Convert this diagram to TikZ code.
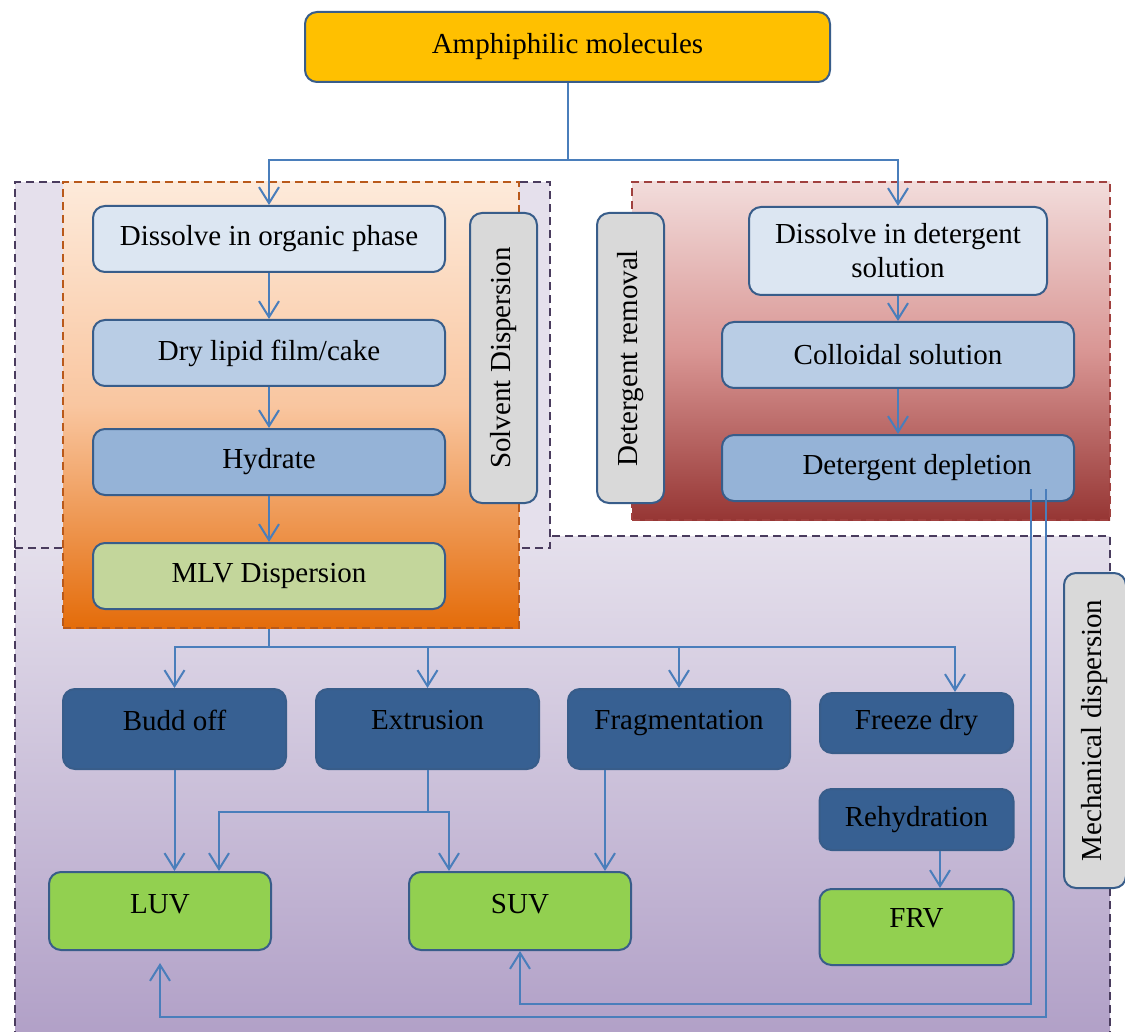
\documentclass[tikz,border=0pt]{standalone}
\usepackage{fontspec}
\setmainfont{Liberation Serif}
\usetikzlibrary{arrows.meta, calc, positioning}
\definecolor{boxedge}{HTML}{385D8A}
\definecolor{linkblue}{HTML}{4A7EBB}
\definecolor{amphigold}{HTML}{FFC000}
\definecolor{palestep}{HTML}{DCE6F2}
\definecolor{midstep}{HTML}{B9CDE5}
\definecolor{deepstep}{HTML}{95B3D7}
\definecolor{mlvgreen}{HTML}{C3D69B}
\definecolor{labelgrey}{HTML}{D9D9D9}
\definecolor{methodblue}{HTML}{376092}
\definecolor{vesiclegreen}{HTML}{92D050}
\definecolor{lavender}{HTML}{E5E0EC}
\definecolor{mechbottom}{HTML}{B1A0C7}
\definecolor{mechedge}{HTML}{4A3C5E}
\definecolor{solvtop}{HTML}{FDEADA}
\definecolor{solvmid}{HTML}{F9C6A0}
\definecolor{solvbottom}{HTML}{E46C0A}
\definecolor{solvedge}{HTML}{B9591A}
\definecolor{dettop}{HTML}{F2DCDB}
\definecolor{detmid}{HTML}{D99694}
\definecolor{detbottom}{HTML}{963634}
\definecolor{detedge}{HTML}{A0403E}

\begin{document}
\begin{tikzpicture}
  [x=0.5pt, y=-0.5pt,
   font=\fontsize{14.5}{17}\selectfont,
   zone/.style={dash pattern=on 4pt off 2.5pt, line width=0.8pt, inner sep=0pt},
   box/.style={draw=boxedge, line width=1pt, rounded corners=6pt, inner sep=2pt, align=center},
   stage/.style={box, minimum width=176pt, minimum height=33pt},
   sidebox/.style={box, fill=labelgrey, rotate=90},
   method/.style={box, fill=methodblue},
   vesicle/.style={box, fill=vesiclegreen},
   link/.style={draw=linkblue, line width=1pt},
   arr/.style={link, -{Straight Barb[length=8pt, width=10pt]}}]

  \useasboundingbox (0,0) rectangle (1125,1032);

  \node[zone, draw=mechedge, top color=lavender, bottom color=mechbottom, minimum width=547.5pt, minimum height=250pt] (mechzone) at (562.5,786) {};
  \node[zone, draw=mechedge, fill=lavender, minimum width=267.5pt, minimum height=183pt] (lipzone) at (282.5,365) {};
  \node[zone, draw=detedge, top color=dettop, bottom color=detbottom, middle color=detmid, minimum width=239pt, minimum height=169pt] (detzone) at (871,351) {};
  \node[zone, draw=solvedge, top color=solvtop, bottom color=solvbottom, middle color=solvmid, minimum width=228pt, minimum height=223pt] (solvzone) at (291,405) {};

  \node[box, fill=amphigold, minimum width=262.5pt, minimum height=35pt] (amphi) at (567.5,47) {Amphiphilic molecules};

  \node[stage, fill=palestep] (org) at (269,239) {Dissolve in organic phase};
  \node[stage, fill=midstep, below=23pt of org] (dry) {Dry lipid film/cake};
  \node[stage, fill=deepstep, below=20.5pt of dry] (hyd) {Hydrate};
  \node[stage, fill=mlvgreen, below=23pt of hyd] (mlv) {MLV Dispersion};
  \node[sidebox, minimum width=145pt, minimum height=33.5pt] (solvlbl) at (503.5,358) {Solvent Dispersion};

  \node[sidebox, minimum width=145pt, minimum height=33.5pt] (detlbl) at (630.5,358) {Detergent removal};
  \node[box, fill=palestep, minimum width=149pt, minimum height=44pt] (deto) at (898,251) {Dissolve in detergent\\solution};
  \node[stage, fill=midstep, below=12.5pt of deto] (coll) {Colloidal solution};
  \node[stage, fill=deepstep, below=22.5pt of coll] (depl) {\hspace*{19pt}Detergent depletion};

  \node[sidebox, minimum width=157.5pt, minimum height=31pt] (mechlbl) at (1095,730.5) {Mechanical dispersion};

  \node[method, text depth=9pt, minimum width=111.5pt, minimum height=40pt] (budd) at (174.5,729) {Budd off};
  \node[method, text depth=9pt, minimum width=111.5pt, minimum height=40pt, right=14pt of budd] (extr) {Extrusion};
  \node[method, text depth=9pt, minimum width=111pt, minimum height=40pt, right=13.5pt of extr] (frag) {Fragmentation};
  \node[method, minimum width=96.5pt, minimum height=30pt] (frz) at (916.5,723) {Freeze dry};
  \node[method, minimum width=97pt, minimum height=30.5pt, below=17pt of frz] (rehyd) {Rehydration};

  \node[vesicle, text depth=7pt, minimum width=111pt, minimum height=39pt] (luv) at (160,911) {LUV};
  \node[vesicle, text depth=7pt, minimum width=111pt, minimum height=39pt] (suv) at (520,911) {SUV};
  \node[vesicle, text depth=9pt, minimum width=97pt, minimum height=38pt, below=18.5pt of rehyd] (frv) {FRV};

  \coordinate (split) at (amphi.south |- 0,160);
  \draw[link] (amphi.south) -- (split);
  \draw[arr] (split) -| (org.north);
  \draw[arr] (split) -| (deto.north);

  \draw[arr] (org.south) -- (org.south |- dry.north);
  \draw[arr] (dry.south) -- (dry.south |- hyd.north);
  \draw[arr] (hyd.south) -- (hyd.south |- mlv.north);
  \draw[arr] (deto.south) -- (deto.south |- coll.north);
  \draw[arr] (coll.south) -- (coll.south |- depl.north);

  \coordinate (fork) at (mlv.south |- 0,647);
  \draw[link] (mlv.south |- solvzone.south) -- (fork);
  \foreach \n in {budd, extr, frag}
    \draw[arr] (fork) -| (\n.north);
  \draw[arr] (fork) -| (955,0 |- frz.north);

  \coordinate (exfork) at (extr.south |- 0,812);
  \draw[link] (extr.south) -- (exfork);
  \draw[arr] (exfork) -| (219,0 |- luv.north);
  \draw[arr] (exfork) -| (449,0 |- suv.north);
  \draw[arr] (budd.south) -- (budd.south |- luv.north);
  \draw[arr] (605,0 |- frag.south) -- (605,0 |- suv.north);
  \draw[arr] (940,0 |- rehyd.south) -- (940,0 |- frv.north);

  \draw[arr, shorten <=-6.5pt] (1031,0 |- depl.south) -- ++(0,502) -| (suv.south);
  \draw[arr, shorten <=-6.5pt, shorten >=6pt] (1046,0 |- depl.south) -- ++(0,515) -| (luv.south);
\end{tikzpicture}
\end{document}
